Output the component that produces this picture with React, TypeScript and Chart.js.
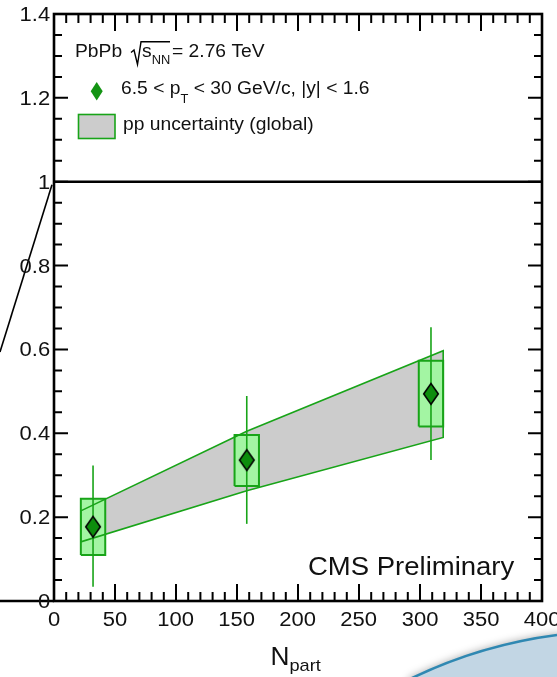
import React, { useEffect, useRef } from "react";
import { Chart, registerables } from "chart.js";

Chart.register(...registerables);

// Nuclear modification factor vs. number of participants
const npart = [32, 158, 309];
const raa = [0.177, 0.336, 0.494];
const statLow = [0.034, 0.184, 0.336];
const statHigh = [0.323, 0.489, 0.653];
const systLow = [0.11, 0.274, 0.416];
const systHigh = [0.244, 0.396, 0.573];
const systHalfWidth = 10; // half width of the systematic boxes, in Npart

// pp reference uncertainty band (global)
const bandNpart = [22, 158, 319];
const bandUpper = [0.215, 0.405, 0.597];
const bandLower = [0.141, 0.263, 0.39];

const unityLevel = 1;

// Axis ticks
const xTickValues = [0, 50, 100, 150, 200, 250, 300, 350, 400];
const yTickValues = [0, 0.2, 0.4, 0.6, 0.8, 1, 1.2, 1.4];
const xMinorDiv = 5;
const yMinorDiv = 4;

const GREEN_LINE = "#18a418";
const BOX_FILL = "#a3f5a3";
const BAND_FILL = "#cccccc";
const MARKER_FILL = "#0d8d0d";
const FONT = '"Liberation Sans", Arial, Helvetica, sans-serif';

function txt(
  ctx: CanvasRenderingContext2D,
  s: string,
  x: number,
  y: number,
  size: number,
  sx = 1.1
): number {
  ctx.save();
  ctx.font = `${size}px ${FONT}`;
  ctx.textBaseline = "alphabetic";
  ctx.textAlign = "left";
  ctx.fillStyle = "#111";
  ctx.translate(x, y);
  ctx.scale(sx, 1);
  ctx.fillText(s, 0, 0);
  const w = ctx.measureText(s).width * sx;
  ctx.restore();
  return w;
}

// Draw text so that its inked box is positioned relative to (x, y)
function tickText(
  ctx: CanvasRenderingContext2D,
  s: string,
  x: number,
  y: number,
  size: number,
  sx: number,
  mode: "right-middle" | "center-top"
) {
  ctx.save();
  ctx.font = `${size}px ${FONT}`;
  ctx.textBaseline = "alphabetic";
  ctx.textAlign = "left";
  ctx.fillStyle = "#111";
  const m = ctx.measureText(s);
  const visL = -m.actualBoundingBoxLeft;
  const visR = m.actualBoundingBoxRight;
  const asc = m.actualBoundingBoxAscent;
  let ox: number, oy: number;
  if (mode === "right-middle") {
    ox = x - visR * sx;
    oy = y + asc / 2;
  } else {
    ox = x - ((visL + visR) / 2) * sx;
    oy = y + asc;
  }
  ctx.translate(ox, oy);
  ctx.scale(sx, 1);
  ctx.fillText(s, 0, 0);
  ctx.restore();
}

function fmt(v: number): string {
  return String(Number(v.toFixed(2)));
}

function makeDiamond(): HTMLCanvasElement {
  const c = document.createElement("canvas");
  c.width = 18;
  c.height = 24;
  const g = c.getContext("2d")!;
  g.beginPath();
  g.moveTo(9, 1.6);
  g.lineTo(16.3, 12);
  g.lineTo(9, 22.4);
  g.lineTo(1.7, 12);
  g.closePath();
  g.fillStyle = MARKER_FILL;
  g.fill();
  g.lineWidth = 1.6;
  g.strokeStyle = "#000";
  g.stroke();
  return c;
}

const framePlugin = {
  id: "cmsFrame",
  afterDraw(chart: any) {
    const ctx: CanvasRenderingContext2D = chart.ctx;
    const { left, right, top, bottom } = chart.chartArea;
    const xs = chart.scales.x;
    const ys = chart.scales.y;

    ctx.save();
    ctx.strokeStyle = "#000";
    ctx.lineCap = "butt";

    // ticks pointing into the frame
    ctx.lineWidth = 2;
    const xt = xs.ticks.map((t: any) => t.value);
    for (let i = 0; i < xt.length; i++) {
      const px = xs.getPixelForValue(xt[i]);
      ctx.beginPath();
      ctx.moveTo(px, bottom);
      ctx.lineTo(px, bottom - 17);
      ctx.moveTo(px, top);
      ctx.lineTo(px, top + 17);
      ctx.stroke();
      if (i < xt.length - 1) {
        const step = (xt[i + 1] - xt[i]) / xMinorDiv;
        for (let k = 1; k < xMinorDiv; k++) {
          const mx = xs.getPixelForValue(xt[i] + k * step);
          ctx.beginPath();
          ctx.moveTo(mx, bottom);
          ctx.lineTo(mx, bottom - 9);
          ctx.moveTo(mx, top);
          ctx.lineTo(mx, top + 9);
          ctx.stroke();
        }
      }
    }
    const yt = ys.ticks.map((t: any) => t.value);
    for (let i = 0; i < yt.length; i++) {
      const py = ys.getPixelForValue(yt[i]);
      ctx.beginPath();
      ctx.moveTo(left, py);
      ctx.lineTo(left + 14, py);
      ctx.moveTo(right, py);
      ctx.lineTo(right - 14, py);
      ctx.stroke();
      if (i < yt.length - 1) {
        const step = (yt[i + 1] - yt[i]) / yMinorDiv;
        for (let k = 1; k < yMinorDiv; k++) {
          const my = ys.getPixelForValue(yt[i] + k * step);
          ctx.beginPath();
          ctx.moveTo(left, my);
          ctx.lineTo(left + 8, my);
          ctx.moveTo(right, my);
          ctx.lineTo(right - 8, my);
          ctx.stroke();
        }
      }
    }

    // frame
    ctx.lineWidth = 2.6;
    ctx.strokeRect(left, top, right - left, bottom - top);

    // zoom-guide lines running off to the left
    ctx.lineWidth = 1.6;
    ctx.beginPath();
    ctx.moveTo(0, ys.getPixelForValue(0.594));
    ctx.lineTo(left - 2, ys.getPixelForValue(0.993));
    ctx.stroke();
    ctx.lineWidth = 2.6;
    ctx.beginPath();
    ctx.moveTo(0, bottom);
    ctx.lineTo(left, bottom);
    ctx.stroke();

    // tick labels
    for (const v of yt) {
      tickText(ctx, fmt(v), left - 4, ys.getPixelForValue(v), 20, 1.1, "right-middle");
    }
    for (const v of xt) {
      tickText(ctx, fmt(v), xs.getPixelForValue(v), bottom + 11, 20, 1.1, "center-top");
    }

    // axis title
    const wN = txt(ctx, "N", 270.5, 665, 25, 1.05);
    txt(ctx, "part", 270.5 + wN, 671, 17, 1.07);

    // legend
    const w1 = txt(ctx, "PbPb", 75, 57, 18, 1.07);
    void w1;
    ctx.lineWidth = 1.4;
    ctx.beginPath();
    ctx.moveTo(131, 52.5);
    ctx.lineTo(134, 50);
    ctx.lineTo(137.5, 64.5);
    ctx.lineTo(141, 41.8);
    ctx.lineTo(170, 41.8);
    ctx.stroke();
    const ws = txt(ctx, "s", 142, 57, 18, 1.07);
    txt(ctx, "NN", 142 + ws, 63.5, 12, 1.07);
    txt(ctx, "= 2.76 TeV", 172, 57, 18, 1.07);

    ctx.beginPath();
    ctx.moveTo(96.7, 82);
    ctx.lineTo(102.7, 91.2);
    ctx.lineTo(96.7, 100.4);
    ctx.lineTo(90.7, 91.2);
    ctx.closePath();
    ctx.fillStyle = "#149414";
    ctx.fill();
    let cx = 121;
    cx += txt(ctx, "6.5 < p", cx, 94, 18, 1.07);
    cx += txt(ctx, "T", cx, 103, 12, 1.07);
    txt(ctx, " < 30 GeV/c, |y| < 1.6", cx, 94, 18, 1.07);

    ctx.fillStyle = BAND_FILL;
    ctx.fillRect(78.5, 114.5, 36.5, 24);
    ctx.strokeStyle = GREEN_LINE;
    ctx.lineWidth = 1.6;
    ctx.strokeRect(78.5, 114.5, 36.5, 24);
    txt(ctx, "pp uncertainty (global)", 123, 130, 18, 1.07);

    txt(ctx, "CMS Preliminary", 308, 575, 25, 1.1);

    // slide decoration at the lower right
    ctx.save();
    ctx.beginPath();
    ctx.moveTo(410, 679);
    ctx.quadraticCurveTo(480, 645, 557, 635);
    ctx.lineTo(562, 634);
    ctx.lineTo(562, 690);
    ctx.lineTo(405, 690);
    ctx.closePath();
    ctx.shadowColor = "rgba(0,0,0,0.35)";
    ctx.shadowBlur = 8;
    ctx.shadowOffsetY = -1;
    ctx.fillStyle = "#c2d6e4";
    ctx.fill();
    ctx.restore();
    ctx.beginPath();
    ctx.moveTo(410, 679);
    ctx.quadraticCurveTo(480, 645, 557, 635);
    ctx.strokeStyle = "#2f88b2";
    ctx.lineWidth = 2.6;
    ctx.stroke();

    ctx.restore();
  },
};

export default function App() {
  const ref = useRef<HTMLCanvasElement | null>(null);

  useEffect(() => {
    const canvas = ref.current;
    if (!canvas) return;

    const bandPolygon = [
      ...bandNpart.map((x, i) => ({ x, y: bandUpper[i] })),
      ...bandNpart
        .map((x, i) => ({ x, y: bandLower[i] }))
        .reverse(),
    ];
    bandPolygon.push({ ...bandPolygon[0] });

    const boxDatasets = npart.map((n, i) => ({
      type: "line" as const,
      data: [
        { x: n - systHalfWidth, y: systLow[i] },
        { x: n - systHalfWidth, y: systHigh[i] },
        { x: n + systHalfWidth, y: systHigh[i] },
        { x: n + systHalfWidth, y: systLow[i] },
        { x: n - systHalfWidth, y: systLow[i] },
      ],
      fill: "shape" as const,
      backgroundColor: BOX_FILL,
      borderColor: GREEN_LINE,
      borderWidth: 2,
      pointRadius: 0,
      tension: 0,
      order: 5,
    }));

    const errDatasets = npart.map((n, i) => ({
      type: "line" as const,
      data: [
        { x: n, y: statLow[i] },
        { x: n, y: statHigh[i] },
      ],
      fill: false,
      borderColor: GREEN_LINE,
      borderWidth: 1.6,
      pointRadius: 0,
      order: 3,
    }));

    const chart = new Chart(canvas, {
      type: "scatter",
      data: {
        datasets: [
          {
            type: "line",
            data: bandPolygon,
            fill: "shape",
            backgroundColor: BAND_FILL,
            borderWidth: 0,
            borderColor: "rgba(0,0,0,0)",
            pointRadius: 0,
            tension: 0,
            order: 7,
          },
          ...boxDatasets,
          {
            type: "line",
            data: bandPolygon,
            fill: false,
            borderColor: GREEN_LINE,
            borderWidth: 1.6,
            pointRadius: 0,
            tension: 0,
            order: 4,
          },
          ...errDatasets,
          {
            type: "line",
            data: [
              { x: xTickValues[0], y: unityLevel },
              { x: xTickValues[xTickValues.length - 1], y: unityLevel },
            ],
            fill: false,
            borderColor: "#000",
            borderWidth: 2.6,
            pointRadius: 0,
            order: 2,
          },
          {
            type: "scatter",
            data: npart.map((n, i) => ({ x: n, y: raa[i] })),
            pointStyle: makeDiamond(),
            pointRadius: 10,
            order: 1,
          },
        ] as any,
      },
      options: {
        responsive: false,
        animation: false,
        devicePixelRatio: 1,
        events: [],
        layout: { padding: { left: 0, right: 15, top: 14, bottom: 0 } },
        plugins: {
          legend: { display: false },
          tooltip: { enabled: false },
          title: { display: false },
        },
        scales: {
          x: {
            type: "linear",
            min: xTickValues[0],
            max: xTickValues[xTickValues.length - 1],
            grid: { display: false },
            border: { display: false },
            ticks: { display: false },
            afterBuildTicks: (s: any) => {
              s.ticks = xTickValues.map((v) => ({ value: v }));
            },
            afterFit: (s: any) => {
              s.height = 76;
            },
          },
          y: {
            type: "linear",
            min: yTickValues[0],
            max: yTickValues[yTickValues.length - 1],
            grid: { display: false },
            border: { display: false },
            ticks: { display: false },
            afterBuildTicks: (s: any) => {
              s.ticks = yTickValues.map((v) => ({ value: v }));
            },
            afterFit: (s: any) => {
              s.width = 54;
            },
          },
        },
      } as any,
      plugins: [framePlugin],
    });

    return () => chart.destroy();
  }, []);

  return (
    <canvas
      ref={ref}
      width={557}
      height={677}
      style={{ position: "absolute", left: 0, top: 0, width: 557, height: 677 }}
    />
  );
}
